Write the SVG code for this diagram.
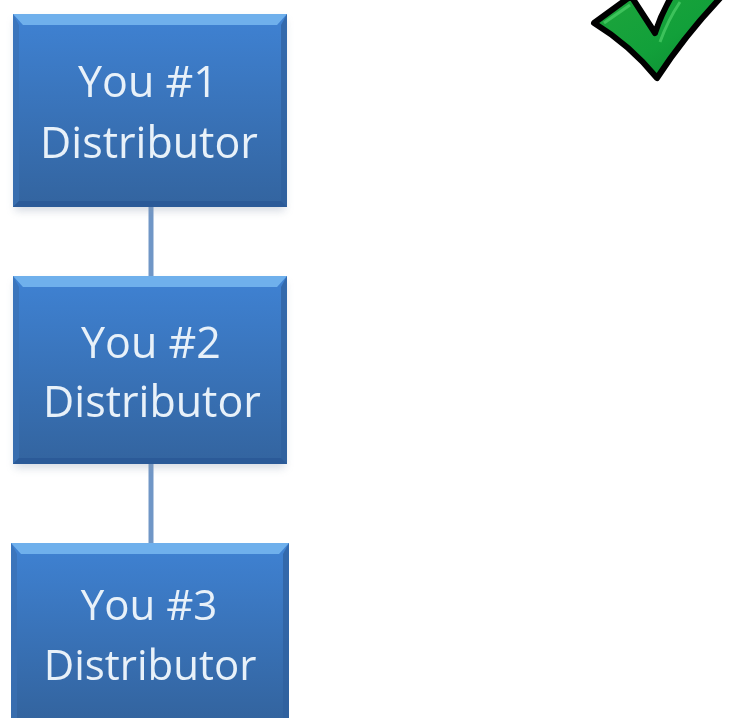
<svg xmlns="http://www.w3.org/2000/svg" width="729" height="718" viewBox="0 0 729 718">
<style>
.t{font-family:"Open Sans","Noto Sans","Liberation Sans",sans-serif;font-size:43px;fill:#e8f1f9;text-anchor:middle}
.c{stroke:#7096c6;stroke-width:5;fill:none}
.top{fill:#6fb0ec}
</style>
<defs>
<linearGradient id="g" x1="0" y1="0" x2="0" y2="1"><stop offset="0" stop-color="#3f82d3"/><stop offset="1" stop-color="#33649f"/></linearGradient>
<linearGradient id="k" x1="0" y1="0" x2="1" y2="1"><stop offset="0" stop-color="#1ea53c"/><stop offset=".55" stop-color="#12a03a"/><stop offset="1" stop-color="#0a8a30"/></linearGradient>
<filter id="s" x="-5%" y="-5%" width="110%" height="115%"><feGaussianBlur stdDeviation="4"/></filter>
<filter id="b" x="-5%" y="-5%" width="110%" height="110%"><feGaussianBlur stdDeviation=".6"/></filter>
</defs>
<rect width="729" height="718" fill="#fff"/>
<g id="connectors">
<line class="c" x1="151" y1="205" x2="151" y2="277"/>
<line class="c" x1="151" y1="462" x2="151" y2="544"/>
</g>
<g id="node1">
<rect x="15" y="20" width="270" height="191" fill="#8a9ab0" opacity=".35" filter="url(#s)"/>
<rect x="13" y="14" width="274" height="193" fill="url(#g)"/>
<path class="top" d="M13 14H287L277 25H23Z"/>
<path d="M13 14L19 25V201L13 207Z" fill="#3a70b4" opacity=".7"/>
<path d="M287 14L281 25V201L287 207Z" fill="#2f5f9c" opacity=".7"/>
<path d="M13 207L19 201H281L287 207Z" fill="#2b5a98"/>
<text class="t" x="148" y="97" filter="url(#b)">You #1</text>
<text class="t" x="149" y="158" filter="url(#b)">Distributor</text>
</g>
<g id="node2">
<rect x="15" y="282" width="270" height="186" fill="#8a9ab0" opacity=".35" filter="url(#s)"/>
<rect x="13" y="276" width="274" height="188" fill="url(#g)"/>
<path class="top" d="M13 276H287L277 287H23Z"/>
<path d="M13 276L19 287V458L13 464Z" fill="#3a70b4" opacity=".7"/>
<path d="M287 276L281 287V458L287 464Z" fill="#2f5f9c" opacity=".7"/>
<path d="M13 464L19 458H281L287 464Z" fill="#2b5a98"/>
<text class="t" x="151" y="358" filter="url(#b)">You #2</text>
<text class="t" x="152" y="417" filter="url(#b)">Distributor</text>
</g>
<g id="node3">
<rect x="11" y="543" width="278" height="175" fill="url(#g)"/>
<path class="top" d="M11 543H289L279 554H21Z"/>
<path d="M11 543L17 554V718H11Z" fill="#3a70b4" opacity=".7"/>
<path d="M289 543L283 554V718H289Z" fill="#2f5f9c" opacity=".7"/>
<text class="t" x="149" y="620" style="font-size:42px" filter="url(#b)">You #3</text>
<text class="t" x="150" y="680" style="font-size:42px" filter="url(#b)">Distributor</text>
</g>
<g id="check">
<path d="M594 23L631 -4L655 33Q662 12 673 -6L724 -6Q685 35 657 78Q630 45 594 23Z" fill="url(#k)" stroke="#000" stroke-width="6" stroke-linejoin="round"/>
<path d="M604 23L630 5" fill="none" stroke="#4fd06a" stroke-width="3" opacity=".7"/>
<path d="M660 42Q668 20 680 2" fill="none" stroke="#4fd06a" stroke-width="3" opacity=".7"/>
</g>
</svg>
